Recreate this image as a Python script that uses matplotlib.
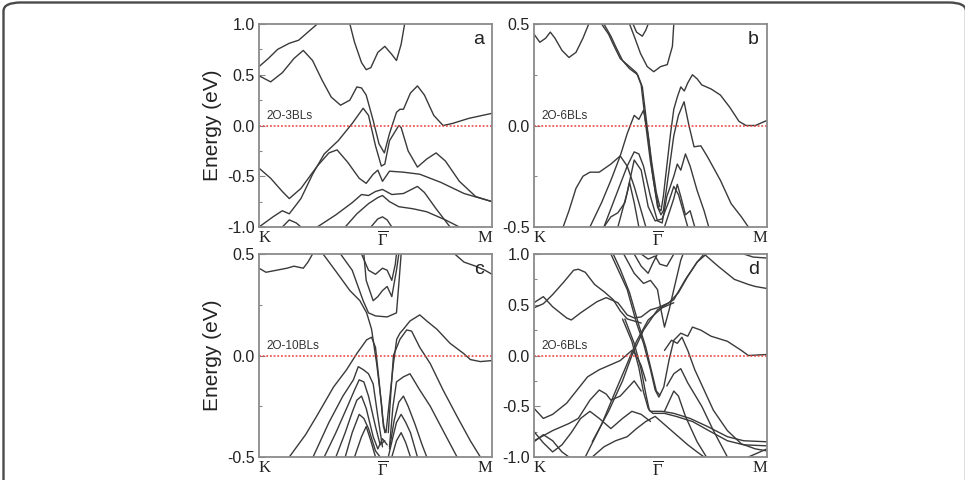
import matplotlib
matplotlib.use('Agg')
import matplotlib.pyplot as plt
from matplotlib.patches import FancyBboxPatch

plt.rcParams['font.family'] = ['Liberation Sans', 'DejaVu Sans']
plt.rcParams['mathtext.fontset'] = 'custom'
plt.rcParams['mathtext.rm'] = 'Liberation Serif'
plt.rcParams['mathtext.it'] = 'Liberation Serif'

# k path: K = 0, Gamma = 0.53, M = 1 ; energies in eV
k_ticks = [0.0, 0.53, 1.0]
k_labels = ['K', r'$\mathregular{\overline{\Gamma}}$', 'M']

# ---- panel a : 2O-3BLs ----
bands_a = [
    [(0, 0.58), (0.04, 0.66), (0.08, 0.75), (0.13, 0.81), (0.17, 0.84), (0.21, 0.92), (0.25, 1.0)],
    [(0.39, 1.0), (0.41, 0.82), (0.44, 0.62), (0.46, 0.55), (0.48, 0.57), (0.51, 0.72), (0.54, 0.78),
     (0.57, 0.70), (0.59, 0.64), (0.61, 0.80), (0.625, 1.0)],
    [(0, 0.49), (0.05, 0.43), (0.10, 0.52), (0.15, 0.66), (0.19, 0.74), (0.23, 0.64), (0.27, 0.45),
     (0.31, 0.28), (0.35, 0.20), (0.39, 0.25), (0.42, 0.38), (0.44, 0.37), (0.46, 0.30), (0.49, 0.05),
     (0.515, -0.18), (0.538, -0.27), (0.56, -0.08), (0.59, 0.13), (0.605, 0.16), (0.62, 0.16),
     (0.65, 0.32), (0.68, 0.39), (0.71, 0.30), (0.75, 0.10), (0.79, 0.0), (0.83, 0.02), (0.90, 0.07),
     (1.0, 0.12)],
    [(0, -1.0), (0.06, -0.90), (0.10, -0.84), (0.13, -0.87), (0.18, -0.72), (0.23, -0.48),
     (0.28, -0.28), (0.34, -0.15), (0.40, 0.02), (0.447, 0.17), (0.47, 0.10), (0.50, -0.20),
     (0.525, -0.40), (0.54, -0.38), (0.56, -0.15), (0.60, 0.0), (0.61, -0.02), (0.64, -0.25),
     (0.68, -0.41), (0.72, -0.33), (0.76, -0.27), (0.80, -0.35), (0.86, -0.55), (0.93, -0.70),
     (1.0, -0.75)],
    [(0, -0.42), (0.05, -0.52), (0.10, -0.65), (0.13, -0.72), (0.18, -0.62), (0.25, -0.40),
     (0.30, -0.27), (0.335, -0.24), (0.38, -0.36), (0.43, -0.52), (0.46, -0.57), (0.49, -0.48),
     (0.51, -0.44), (0.53, -0.55), (0.56, -0.45), (0.62, -0.46), (0.69, -0.48), (0.78, -0.56),
     (0.88, -0.67), (1.0, -0.75)],
    [(0.25, -1.0), (0.33, -0.88), (0.40, -0.76), (0.44, -0.68), (0.47, -0.69), (0.50, -0.65),
     (0.53, -0.63), (0.57, -0.68), (0.62, -0.67), (0.68, -0.60), (0.71, -0.66), (0.76, -0.82),
     (0.82, -1.0)],
    [(0.37, -1.0), (0.42, -0.87), (0.47, -0.77), (0.51, -0.71), (0.53, -0.69), (0.56, -0.75),
     (0.60, -0.80), (0.66, -0.82), (0.72, -0.85), (0.80, -0.93), (0.86, -1.0)],
    [(0.48, -1.0), (0.51, -0.92), (0.53, -0.90), (0.55, -0.93), (0.57, -1.0)],
    [(0.10, -1.0), (0.13, -0.93), (0.16, -0.96), (0.18, -1.0)],
]

# ---- panel b : 2O-6BLs ----
bands_b = [
    [(0, 0.45), (0.025, 0.41), (0.05, 0.43), (0.07, 0.46), (0.09, 0.43), (0.12, 0.37), (0.15, 0.335),
     (0.18, 0.36), (0.21, 0.43), (0.235, 0.5)],
    [(0.29, 0.5), (0.32, 0.45), (0.34, 0.40), (0.37, 0.33), (0.41, 0.29), (0.44, 0.26), (0.46, 0.20),
     (0.48, 0.0), (0.50, -0.18), (0.52, -0.32), (0.535, -0.41), (0.545, -0.42), (0.555, -0.35),
     (0.57, -0.20), (0.586, -0.04), (0.60, 0.08), (0.615, 0.14), (0.63, 0.19), (0.645, 0.17),
     (0.66, 0.21), (0.68, 0.25), (0.70, 0.23), (0.72, 0.20), (0.76, 0.18), (0.80, 0.15), (0.84, 0.09),
     (0.88, 0.02), (0.91, 0.0), (0.95, 0.0), (1.0, 0.025)],
    [(0.30, 0.5), (0.33, 0.44), (0.35, 0.39), (0.38, 0.32), (0.41, 0.28), (0.445, 0.25), (0.465, 0.19),
     (0.485, 0.0), (0.505, -0.18), (0.525, -0.33), (0.54, -0.40)],
    [(0.41, 0.5), (0.43, 0.44), (0.457, 0.355), (0.486, 0.29), (0.514, 0.265), (0.543, 0.29),
     (0.572, 0.30), (0.594, 0.39), (0.60, 0.5)],
    [(0.425, 0.5), (0.44, 0.46), (0.465, 0.44), (0.48, 0.47), (0.49, 0.5)],
    [(0.125, -0.5), (0.15, -0.42), (0.18, -0.31), (0.21, -0.25), (0.24, -0.23), (0.28, -0.23),
     (0.33, -0.19), (0.37, -0.15), (0.40, -0.20), (0.43, -0.30), (0.46, -0.42), (0.48, -0.5)],
    [(0.24, -0.5), (0.29, -0.38), (0.33, -0.27), (0.37, -0.15), (0.40, -0.04), (0.43, 0.05),
     (0.45, 0.03), (0.47, 0.075), (0.49, -0.05), (0.51, -0.25), (0.53, -0.40), (0.545, -0.44),
     (0.555, -0.42), (0.57, -0.30), (0.60, -0.05), (0.62, 0.05), (0.644, 0.117), (0.665, 0.0),
     (0.687, -0.105), (0.716, -0.10), (0.745, -0.155), (0.80, -0.27), (0.846, -0.385), (0.89, -0.45),
     (0.92, -0.5)],
    [(0.30, -0.5), (0.35, -0.35), (0.40, -0.20), (0.43, -0.13), (0.45, -0.14), (0.47, -0.20),
     (0.50, -0.35), (0.53, -0.47), (0.55, -0.48), (0.57, -0.35), (0.60, -0.25), (0.615, -0.19),
     (0.63, -0.22), (0.65, -0.14), (0.67, -0.20), (0.70, -0.32), (0.73, -0.42), (0.75, -0.5)],
    [(0.30, -0.5), (0.33, -0.45), (0.36, -0.43), (0.39, -0.38), (0.41, -0.28), (0.43, -0.38),
     (0.45, -0.5)],
    [(0.36, -0.5), (0.40, -0.33), (0.43, -0.17), (0.46, -0.22), (0.49, -0.40), (0.52, -0.47),
     (0.55, -0.46), (0.58, -0.37), (0.60, -0.30), (0.62, -0.34), (0.64, -0.42), (0.66, -0.5)],
    [(0.56, -0.5), (0.58, -0.43), (0.60, -0.36), (0.615, -0.29), (0.63, -0.35), (0.65, -0.44),
     (0.67, -0.42), (0.69, -0.5)],
]

# ---- panel c : 2O-10BLs ----
bands_c = [
    [(0, 0.43), (0.03, 0.41), (0.075, 0.42), (0.12, 0.43), (0.15, 0.44), (0.19, 0.43), (0.21, 0.46),
     (0.23, 0.5)],
    [(0.275, 0.5), (0.333, 0.41), (0.39, 0.32), (0.433, 0.27), (0.462, 0.21), (0.483, 0.13),
     (0.505, -0.04), (0.527, -0.25), (0.534, -0.35), (0.545, -0.38), (0.562, -0.20), (0.577, -0.04),
     (0.591, 0.08), (0.605, 0.11), (0.62, 0.13), (0.648, 0.17), (0.69, 0.20), (0.72, 0.17),
     (0.763, 0.13), (0.82, 0.06), (0.878, 0.01), (0.907, -0.02), (0.95, -0.03), (1.0, -0.025)],
    [(0.35, 0.5), (0.40, 0.42), (0.447, 0.27), (0.47, 0.21), (0.50, 0.195), (0.55, 0.19),
     (0.59, 0.21), (0.60, 0.35), (0.61, 0.5)],
    [(0.45, 0.5), (0.46, 0.37), (0.49, 0.27), (0.51, 0.29), (0.53, 0.32), (0.55, 0.34),
     (0.57, 0.29), (0.59, 0.42), (0.60, 0.5)],
    [(0.44, 0.5), (0.47, 0.42), (0.50, 0.40), (0.53, 0.43), (0.55, 0.42), (0.57, 0.37), (0.585, 0.45),
     (0.59, 0.5)],
    [(0.84, 0.5), (0.88, 0.46), (0.93, 0.44), (0.97, 0.42), (1.0, 0.40)],
    [(0.13, -0.5), (0.20, -0.39), (0.247, -0.30), (0.32, -0.155), (0.376, -0.07), (0.42, 0.01),
     (0.462, 0.077), (0.483, 0.09), (0.50, 0.04), (0.515, -0.12), (0.53, -0.30), (0.54, -0.38)],
    [(0.555, -0.38), (0.565, -0.2), (0.577, 0.0), (0.605, 0.08), (0.634, 0.126), (0.655, 0.12),
     (0.69, 0.04), (0.735, -0.04), (0.79, -0.17), (0.85, -0.30), (0.907, -0.42), (0.95, -0.5)],
    [(0.56, -0.45), (0.575, -0.25), (0.59, -0.13), (0.62, -0.105), (0.648, -0.09), (0.69, -0.17),
     (0.735, -0.25), (0.79, -0.37), (0.85, -0.5)],
    [(0.232, -0.5), (0.30, -0.33), (0.36, -0.20), (0.405, -0.12), (0.426, -0.055), (0.448, -0.07),
     (0.47, -0.09), (0.49, -0.14), (0.51, -0.30), (0.53, -0.45)],
    [(0.28, -0.5), (0.33, -0.38), (0.38, -0.25), (0.41, -0.17), (0.43, -0.12), (0.45, -0.13),
     (0.47, -0.2), (0.50, -0.35), (0.52, -0.44), (0.54, -0.42)],
    [(0.33, -0.5), (0.37, -0.38), (0.40, -0.28), (0.42, -0.22), (0.44, -0.2), (0.46, -0.26),
     (0.49, -0.4), (0.51, -0.46), (0.53, -0.41), (0.55, -0.44)],
    [(0.37, -0.5), (0.40, -0.38), (0.43, -0.29), (0.45, -0.31), (0.47, -0.36), (0.50, -0.47),
     (0.52, -0.5)],
    [(0.41, -0.5), (0.44, -0.40), (0.46, -0.35), (0.48, -0.42), (0.50, -0.5)],
    [(0.56, -0.46), (0.58, -0.32), (0.60, -0.23), (0.62, -0.2), (0.64, -0.25), (0.67, -0.34),
     (0.70, -0.44), (0.72, -0.5)],
    [(0.555, -0.5), (0.575, -0.40), (0.59, -0.33), (0.61, -0.29), (0.63, -0.33), (0.65, -0.38),
     (0.68, -0.5)],
    [(0.57, -0.5), (0.59, -0.42), (0.61, -0.38), (0.63, -0.43), (0.65, -0.5)],
]

# ---- panel d : 2O-6BLs ----
bands_d = [
    [(0, 0.52), (0.04, 0.58), (0.08, 0.48), (0.14, 0.37), (0.16, 0.35), (0.20, 0.42), (0.27, 0.53),
     (0.31, 0.57), (0.36, 0.52), (0.40, 0.40), (0.43, 0.37), (0.46, 0.38), (0.50, 0.45), (0.53, 0.47),
     (0.58, 0.52), (0.62, 0.62), (0.66, 0.78), (0.70, 0.92), (0.73, 1.0)],
    [(0, 0.47), (0.04, 0.51), (0.08, 0.60), (0.13, 0.73), (0.17, 0.84), (0.19, 0.85), (0.22, 0.82),
     (0.26, 0.70), (0.30, 0.63), (0.34, 0.55), (0.37, 0.44), (0.40, 0.36), (0.43, 0.34), (0.46, 0.32)],
    [(0.33, 1.0), (0.36, 0.85), (0.40, 0.65), (0.44, 0.32), (0.47, 0.12), (0.50, -0.14), (0.52, -0.34),
     (0.536, -0.41), (0.557, -0.31), (0.58, -0.04), (0.60, 0.15), (0.63, 0.22), (0.66, 0.19),
     (0.68, 0.28), (0.716, 0.25), (0.76, 0.19), (0.83, 0.14), (0.89, 0.05), (0.92, 0.0), (1.0, 0.01)],
    [(0.34, 1.0), (0.37, 0.85), (0.41, 0.62), (0.45, 0.30), (0.48, 0.08), (0.505, -0.16),
     (0.525, -0.35), (0.54, -0.39)],
    [(0.385, 1.0), (0.43, 0.81), (0.47, 0.71), (0.50, 0.74), (0.53, 0.65), (0.545, 0.45),
     (0.56, 0.28), (0.58, 0.45), (0.60, 0.65), (0.63, 0.94), (0.64, 1.0)],
    [(0.43, 1.0), (0.46, 0.88), (0.49, 0.81), (0.51, 0.91), (0.53, 1.0)],
    [(0.46, 1.0), (0.49, 0.95), (0.52, 0.98), (0.54, 0.9), (0.57, 0.88), (0.60, 1.0)],
    [(0.25, -0.85), (0.32, -0.55), (0.38, -0.25), (0.42, 0.0), (0.47, 0.25), (0.53, 0.45),
     (0.60, 0.55), (0.65, 0.75), (0.70, 0.92), (0.74, 1.0)],
    [(0.22, -1.0), (0.29, -0.68), (0.35, -0.35), (0.40, -0.08), (0.44, 0.14), (0.49, 0.35),
     (0.55, 0.47), (0.60, 0.52)],
    [(0.38, 0.36), (0.42, 0.14), (0.45, -0.12), (0.47, -0.36), (0.49, -0.52), (0.50, -0.55),
     (0.55, -0.55), (0.60, -0.57), (0.67, -0.62), (0.745, -0.70), (0.83, -0.80), (0.90, -0.84),
     (1.0, -0.85)],
    [(0.39, 0.36), (0.43, 0.12), (0.46, -0.14), (0.48, -0.38), (0.495, -0.54), (0.51, -0.57),
     (0.56, -0.57), (0.61, -0.60), (0.68, -0.65), (0.75, -0.74), (0.83, -0.84), (0.90, -0.88),
     (1.0, -0.89)],
    [(0, -0.52), (0.04, -0.62), (0.08, -0.58), (0.14, -0.47), (0.23, -0.21), (0.28, -0.14),
     (0.33, -0.09), (0.37, -0.05), (0.42, 0.05), (0.44, 0.0), (0.46, -0.1), (0.48, -0.25)],
    [(0, -0.84), (0.08, -0.74), (0.15, -0.67), (0.19, -0.62), (0.24, -0.44), (0.28, -0.34),
     (0.31, -0.38), (0.33, -0.44), (0.37, -0.40), (0.41, -0.3), (0.43, -0.25), (0.46, -0.35)],
    [(0, -0.75), (0.04, -0.86), (0.08, -0.95), (0.12, -0.88), (0.16, -0.76), (0.20, -0.62),
     (0.24, -0.55), (0.28, -0.62), (0.33, -0.72), (0.38, -0.62), (0.42, -0.55), (0.46, -0.58),
     (0.50, -0.65)],
    [(0, -0.85), (0.04, -0.78), (0.08, -0.84), (0.12, -0.95), (0.15, -1.0)],
    [(0.25, -1.0), (0.30, -0.9), (0.35, -0.84), (0.40, -0.80), (0.44, -0.72), (0.48, -0.65),
     (0.52, -0.60), (0.55, -0.66), (0.58, -0.72), (0.62, -0.80), (0.66, -0.88), (0.70, -0.95),
     (0.73, -1.0)],
    [(0.56, 0.05), (0.59, 0.15), (0.615, 0.12), (0.635, 0.18), (0.66, 0.05), (0.69, -0.14),
     (0.73, -0.34), (0.77, -0.54), (0.83, -0.74), (0.89, -0.87), (0.95, -0.92), (1.0, -0.94)],
    [(0.57, -0.30), (0.60, -0.18), (0.63, -0.13), (0.66, -0.27), (0.72, -0.50), (0.77, -0.74),
     (0.83, -1.0)],
    [(0.56, -0.55), (0.58, -0.45), (0.60, -0.35), (0.62, -0.40), (0.65, -0.60), (0.70, -0.85),
     (0.74, -1.0)],
    [(0.73, 1.0), (0.79, 0.88), (0.86, 0.75), (0.92, 0.70), (0.95, 0.68), (1.0, 0.66)],
    [(0.90, 1.0), (0.94, 0.97), (1.0, 0.96)],
    [(0.92, -1.0), (0.96, -0.96), (1.0, -0.92)],
]

panels = [
    ('a', '2O-3BLs', bands_a, (-1.0, 1.0), [-1.0, -0.5, 0.0, 0.5, 1.0], True),
    ('b', '2O-6BLs', bands_b, (-0.5, 0.5), [-0.5, 0.0, 0.5], False),
    ('c', '2O-10BLs', bands_c, (-0.5, 0.5), [-0.5, 0.0, 0.5], True),
    ('d', '2O-6BLs', bands_d, (-1.0, 1.0), [-1.0, -0.5, 0.0, 0.5, 1.0], False),
]

# axes boxes in pixels: left, top
W, H = 965.0, 480.0
boxes = [(259, 24), (534, 24), (259, 254), (534, 254)]
aw, ah = 233, 203

fig = plt.figure(figsize=(9.65, 4.8), dpi=100)

frame = FancyBboxPatch((3.5 / W, -0.2), (966 - 3.5) / W, 0.2 + (H - 2.5) / H,
                       boxstyle='round,pad=0,rounding_size=0.018',
                       transform=fig.transFigure, fill=False,
                       edgecolor='#4a4a4a', linewidth=1.7, clip_on=False)
fig.patches.append(frame)

for (lab, name, bands, ylim, yt, show_ylabel), (bx, by) in zip(panels, boxes):
    ax = fig.add_axes([bx / W, (H - by - ah) / H, aw / W, ah / H])
    for band in bands:
        ks = [p[0] for p in band]
        es = [p[1] for p in band]
        ax.plot(ks, es, color='#3a3a3a', lw=1.0, solid_capstyle='round')
    ax.axhline(0.0, color='#e8403a', lw=1.1, ls=(0, (1.2, 1.2)))
    ax.set_xlim(0, 1)
    ax.set_ylim(*ylim)
    ax.set_yticks(yt)
    ax.set_yticklabels(['%.1f' % v for v in yt])
    step = yt[1] - yt[0]
    ax.set_yticks([v + step / 2 for v in yt[:-1]], minor=True)
    ax.tick_params(axis='y', which='major', direction='in', length=4, width=0.8,
                   color='#888888', labelsize=11.5, labelcolor='#222222', pad=3)
    ax.tick_params(axis='y', which='minor', direction='in', length=2, width=0.8, color='#888888')
    ax.set_xticks(k_ticks)
    ax.set_xticklabels(k_labels, fontfamily='Liberation Serif', fontsize=12, color='#222222')
    ax.get_xticklabels()[0].set_horizontalalignment('left')
    ax.get_xticklabels()[2].set_horizontalalignment('right')
    ax.tick_params(axis='x', length=0, pad=2.5)
    for s in ax.spines.values():
        s.set_color('#8a8a8a')
        s.set_linewidth(1.3)
    ax.text(0.965, 0.965, lab, transform=ax.transAxes, ha='right', va='top',
            fontsize=14, color='#222222')
    ax.text(0.03, 0.515, name, transform=ax.transAxes, ha='left', va='bottom',
            fontsize=8.5, color='#333333')
    if show_ylabel:
        ax.set_ylabel('Energy (eV)', fontsize=15, color='#222222', labelpad=4)

fig.savefig('out.png', dpi=100)
